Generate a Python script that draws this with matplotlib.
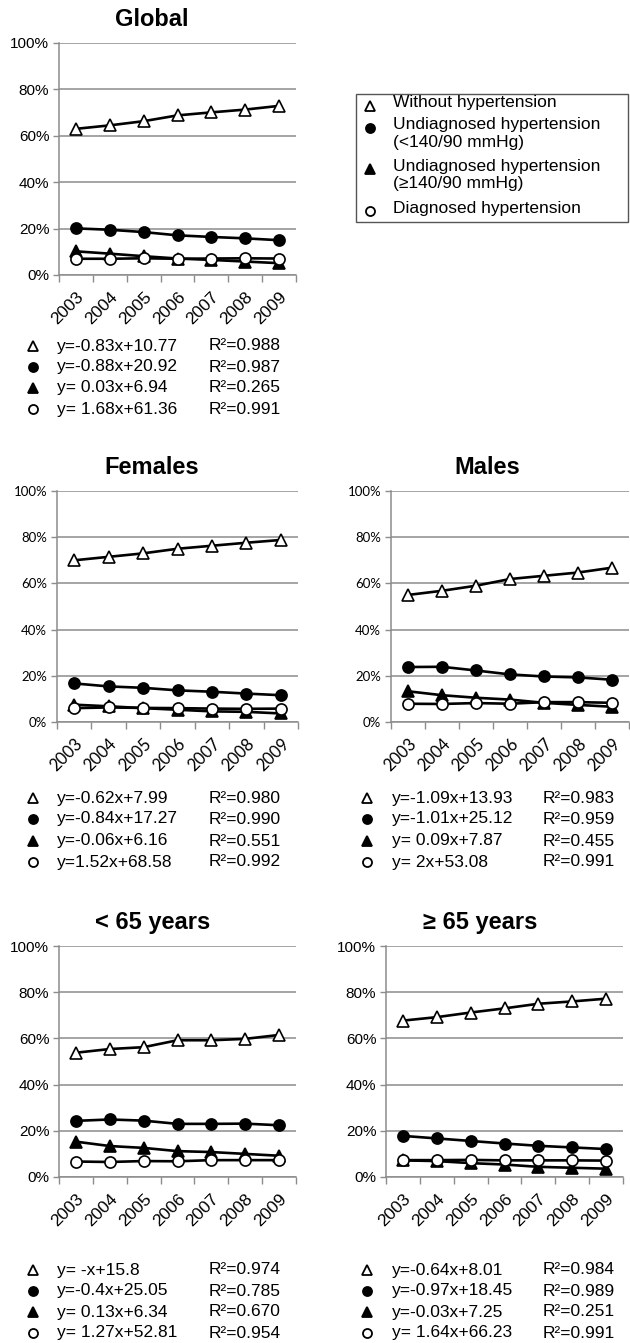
import matplotlib
matplotlib.use('Agg')
import matplotlib.pyplot as plt
from matplotlib.lines import Line2D
from matplotlib.patches import Rectangle
from matplotlib.ticker import FixedLocator, NullFormatter

# ---------------- data ----------------
years = ['2003', '2004', '2005', '2006', '2007', '2008', '2009']
series_labels = ['Without hypertension',
                 'Undiagnosed hypertension\n(<140/90 mmHg)',
                 'Undiagnosed hypertension\n(\u2265140/90 mmHg)',
                 'Diagnosed hypertension']
yticks = [0, 20, 40, 60, 80, 100]
ytick_labels = ['0%', '20%', '40%', '60%', '80%', '100%']

titles = ['Global', 'Females', 'Males', '< 65 years', '\u2265 65 years']

# Global
global_without = [63.0, 64.5, 66.3, 68.8, 70.1, 71.3, 72.9]
global_undiag_low = [20.1, 19.5, 18.5, 17.1, 16.4, 15.8, 15.0]
global_undiag_high = [10.2, 9.2, 8.1, 7.1, 6.5, 5.8, 5.1]
global_diag = [7.0, 7.0, 7.2, 7.0, 7.1, 7.2, 7.1]

# Females
fem_without = [70.0, 71.5, 73.0, 75.0, 76.3, 77.6, 78.8]
fem_undiag_low = [16.7, 15.4, 14.8, 13.7, 13.1, 12.3, 11.6]
fem_undiag_high = [7.5, 6.8, 6.0, 5.3, 4.6, 4.4, 3.7]
fem_diag = [6.0, 6.3, 6.1, 6.0, 5.8, 5.7, 5.8]

# Males
male_without = [55.0, 56.8, 59.0, 61.9, 63.3, 64.7, 66.8]
male_undiag_low = [23.8, 23.9, 22.3, 20.6, 19.7, 19.3, 18.3]
male_undiag_high = [13.3, 11.6, 10.5, 9.7, 8.3, 7.4, 6.6]
male_diag = [7.9, 7.8, 8.2, 7.9, 8.6, 8.6, 8.3]

# < 65 years
young_without = [53.8, 55.4, 56.2, 59.2, 59.2, 59.8, 61.5]
young_undiag_low = [24.3, 24.9, 24.4, 23.0, 23.0, 23.1, 22.4]
young_undiag_high = [15.3, 13.4, 12.6, 11.2, 10.8, 10.0, 9.2]
young_diag = [6.7, 6.5, 6.9, 6.8, 7.3, 7.3, 7.3]

# >= 65 years
old_without = [67.7, 69.2, 71.2, 73.0, 75.0, 76.0, 77.2]
old_undiag_low = [17.8, 16.7, 15.6, 14.5, 13.5, 12.8, 12.1]
old_undiag_high = [7.2, 6.9, 6.0, 5.4, 4.4, 4.0, 3.6]
old_diag = [7.3, 7.3, 7.4, 7.2, 7.2, 7.2, 7.1]

# regression text blocks
global_eq = ['y=-0.83x+10.77', 'y=-0.88x+20.92', 'y= 0.03x+6.94', 'y= 1.68x+61.36']
global_r2 = ['R\u00b2=0.988', 'R\u00b2=0.987', 'R\u00b2=0.265', 'R\u00b2=0.991']
fem_eq = ['y=-0.62x+7.99', 'y=-0.84x+17.27', 'y=-0.06x+6.16', 'y=1.52x+68.58']
fem_r2 = ['R\u00b2=0.980', 'R\u00b2=0.990', 'R\u00b2=0.551', 'R\u00b2=0.992']
male_eq = ['y=-1.09x+13.93', 'y=-1.01x+25.12', 'y= 0.09x+7.87', 'y= 2x+53.08']
male_r2 = ['R\u00b2=0.983', 'R\u00b2=0.959', 'R\u00b2=0.455', 'R\u00b2=0.991']
young_eq = ['y= -x+15.8', 'y=-0.4x+25.05', 'y= 0.13x+6.34', 'y= 1.27x+52.81']
young_r2 = ['R\u00b2=0.974', 'R\u00b2=0.785', 'R\u00b2=0.670', 'R\u00b2=0.954']
old_eq = ['y=-0.64x+8.01', 'y=-0.97x+18.45', 'y=-0.03x+7.25', 'y= 1.64x+66.23']
old_r2 = ['R\u00b2=0.984', 'R\u00b2=0.989', 'R\u00b2=0.251', 'R\u00b2=0.991']

# ---------------- styling ----------------
W, H = 630, 1343
FONT = ['Liberation Sans', 'DejaVu Sans']
plt.rcParams['font.family'] = FONT
GRID = '#8c8c8c'

styles = [dict(marker='^', mfc='white', mec='black'),
          dict(marker='o', mfc='black', mec='black'),
          dict(marker='^', mfc='black', mec='black'),
          dict(marker='o', mfc='white', mec='black')]

fig = plt.figure(figsize=(W / 100, H / 100), dpi=100)


def fx(x):
    return x / W


def fy(y):
    return 1 - y / H


def make_axes(left, right, top, bottom, series, title, tcx, tcy,
              tickfont, ticksize, yearsize):
    ax = fig.add_axes([fx(left), fy(bottom), fx(right - left), (bottom - top) / H])
    x = list(range(len(years)))
    for vals, st in zip(series, styles):
        ax.plot(x, vals, color='black', lw=1.9, ms=8.0, mew=1.2, zorder=3,
                clip_on=False, **st)
    ax.set_xlim(-0.5, len(years) - 0.5)
    ax.set_ylim(0, 100)
    ax.set_yticks(yticks)
    ax.set_yticklabels(ytick_labels, family=tickfont, fontsize=ticksize)
    ax.yaxis.grid(True, color=GRID, lw=1.1)
    ax.set_axisbelow(True)
    ax.tick_params(axis='y', length=4, color=GRID, width=1.0, pad=3)
    ax.set_xticks(x)
    ax.set_xticklabels(years, rotation=45, ha='right', rotation_mode='anchor',
                       family=tickfont, fontsize=yearsize)
    ax.tick_params(axis='x', which='major', length=0, pad=10)
    ax.xaxis.set_minor_locator(FixedLocator([i - 0.5 for i in range(len(years) + 1)]))
    ax.xaxis.set_minor_formatter(NullFormatter())
    ax.tick_params(axis='x', which='minor', length=5, color=GRID, width=1.0)
    for s in ['top', 'right']:
        ax.spines[s].set_visible(False)
    for s in ['left', 'bottom']:
        ax.spines[s].set_color(GRID)
        ax.spines[s].set_linewidth(1.1)
    fig.text(fx(tcx), fy(tcy), title, ha='center', va='center',
             fontsize=17, fontweight='bold', family=FONT)
    return ax


def eq_block(xs, xt, xr, rows, eqs, r2s):
    for st, y, e, r in zip(styles, rows, eqs, r2s):
        fig.add_artist(Line2D([fx(xs)], [fy(y)], transform=fig.transFigure,
                              color='black', lw=0, ms=6.5, mew=1.3, **st))
        fig.text(fx(xt), fy(y), e, ha='left', va='center', fontsize=12.5)
        fig.text(fx(xr), fy(y), r, ha='left', va='center', fontsize=12.5)


make_axes(59, 296, 43, 275,
          [global_without, global_undiag_low, global_undiag_high, global_diag],
          titles[0], 152, 20, FONT, 11, 12.5)
make_axes(57, 298, 491, 722,
          [fem_without, fem_undiag_low, fem_undiag_high, fem_diag],
          titles[1], 152, 468, ['Lato', 'DejaVu Sans'], 9.5, 12)
make_axes(391, 629, 491, 722,
          [male_without, male_undiag_low, male_undiag_high, male_diag],
          titles[2], 487, 468, ['Lato', 'DejaVu Sans'], 9.5, 12)
make_axes(59, 296, 946, 1177,
          [young_without, young_undiag_low, young_undiag_high, young_diag],
          titles[3], 153, 923, FONT, 11, 12.5)
make_axes(386, 623, 946, 1177,
          [old_without, old_undiag_low, old_undiag_high, old_diag],
          titles[4], 480, 923, FONT, 11, 12.5)

eq_block(33, 57, 209, [346, 367, 388, 409], global_eq, global_r2)
eq_block(33, 57, 209, [798, 819, 841, 862], fem_eq, fem_r2)
eq_block(367, 392, 543, [798, 819, 841, 862], male_eq, male_r2)
eq_block(33, 57, 209, [1270, 1291, 1312, 1333], young_eq, young_r2)
eq_block(367, 392, 543, [1270, 1291, 1312, 1333], old_eq, old_r2)

# legend box
fig.add_artist(Rectangle((fx(356), fy(222)), fx(628 - 356), (222 - 94) / H,
                         transform=fig.transFigure, fill=False,
                         edgecolor='#555555', lw=1.0))
label_rows = [106, 128, 169, 211]
for st, y, lab in zip(styles, label_rows, series_labels):
    fig.add_artist(Line2D([fx(370)], [fy(y)], transform=fig.transFigure,
                          color='black', lw=0, ms=6.5, mew=1.3, **st))
    fig.text(fx(393), fy(y - 10.5), lab, ha='left', va='top', fontsize=12.5,
             linespacing=1.22)

fig.savefig('out.png', dpi=100)
